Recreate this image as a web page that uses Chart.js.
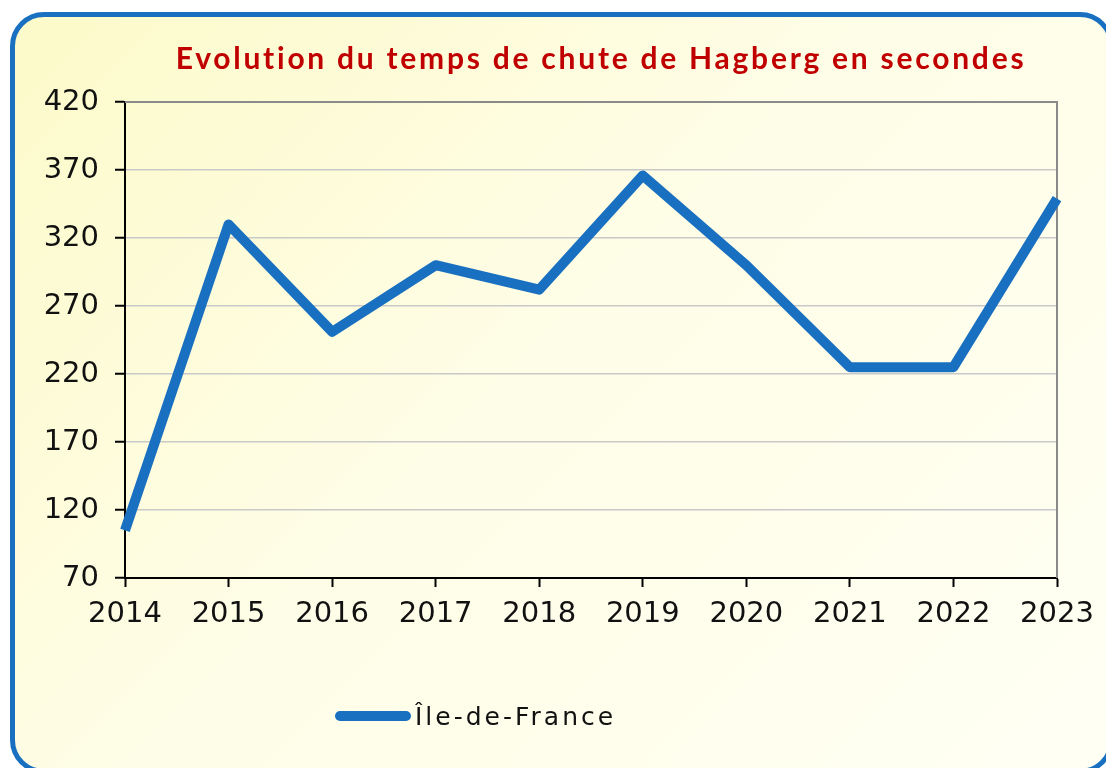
<!DOCTYPE html>
<html>
<head>
<meta charset="utf-8">
<script src="https://cdn.jsdelivr.net/npm/chart.js@4/dist/chart.umd.min.js"></script>
<style>
  html, body { margin: 0; padding: 0; background: #ffffff; }
  #frame {
    position: absolute; left: 10px; top: 12px; width: 1104px; height: 762px;
    box-sizing: border-box; border: 5px solid #1a70c0; border-radius: 34px;
    background: linear-gradient(135deg, #fcfac9 0%, #fefde6 45%, #fffff4 100%);
  }
  #title {
    position: absolute; left: 0; width: 1202px; top: 39px; text-align: center;
    font-family: "Lato", sans-serif; font-weight: bold; font-size: 30px;
    color: #c00000; letter-spacing: 2.75px; white-space: nowrap;
  }
  #legend {
    position: absolute; left: 335px; top: 700px; height: 32px;
    display: flex; align-items: center;
    font-family: "DejaVu Sans", sans-serif; font-size: 25px; letter-spacing: 3px; color: #111;
  }
  #legend .swatch { width: 76px; height: 10px; border-radius: 5px; background: #1a70c0; margin-right: 4px; }
  #chart { position: absolute; left: 0; top: 0; }
</style>
</head>
<body>
<div id="frame"></div>
<canvas id="chart" width="1106" height="768"></canvas>
<div id="title">Evolution du temps de chute de Hagberg en secondes</div>
<div id="legend"><span class="swatch"></span><span>Île-de-France</span></div>
<script>
const years = ["2014", "2015", "2016", "2017", "2018", "2019", "2020", "2021", "2022", "2023"];
const ileDeFrance = [105, 330, 251, 300, 282, 366, 300, 225, 225, 349];
const yMin = 70;
const yMax = 420;
const yStep = 50;

// gray frame around the plot area (top and right edges)
const plotFrame = {
    id: 'plotFrame',
    beforeDatasetsDraw(chart) {
        const a = chart.chartArea;
        const ctx = chart.ctx;
        ctx.save();
        ctx.strokeStyle = '#8a8a8a';
        ctx.lineWidth = 2;
        ctx.beginPath();
        ctx.moveTo(a.left, a.top);
        ctx.lineTo(a.right, a.top);
        ctx.lineTo(a.right, a.bottom);
        ctx.stroke();
        ctx.restore();
    }
};

const ctx = document.getElementById("chart").getContext('2d');

const hagbergChart = new Chart(ctx, {
    type: 'line',
    data: {
        labels: years,
        datasets: [{
            label: 'Île-de-France',
            data: ileDeFrance,
            borderColor: '#1a70c0',
            borderWidth: 10,
            pointRadius: 0,
            tension: 0,
            borderJoinStyle: 'round',
            borderCapStyle: 'butt',
            clip: false
        }]
    },
    options: {
        responsive: false,
        animation: false,
        layout: { padding: { top: 102, left: 0, right: 49, bottom: 130 } },
        plugins: {
            legend: { display: false },
            title: { display: false },
            tooltip: { enabled: false }
        },
        scales: {
            x: {
                offset: false,
                grid: { drawOnChartArea: false, tickLength: 9, tickColor: '#000', tickWidth: 2 },
                border: { color: '#000', width: 2 },
                ticks: { color: '#111', font: { family: 'DejaVu Sans', size: 29 }, padding: 10, maxRotation: 0, autoSkip: false },
                afterFit(scale) { scale.height = 60; }
            },
            y: {
                min: yMin,
                max: yMax,
                ticks: { stepSize: yStep, color: '#111', font: { family: 'DejaVu Sans', size: 29 }, padding: 16 },
                grid: { color: '#c9c9c9', lineWidth: 1.5, tickLength: 10, tickColor: '#000', tickWidth: 2 },
                border: { color: '#000', width: 2 },
                afterFit(scale) { scale.width = 125; }
            }
        }
    },
    plugins: [plotFrame]
});
</script>
</body>
</html>
